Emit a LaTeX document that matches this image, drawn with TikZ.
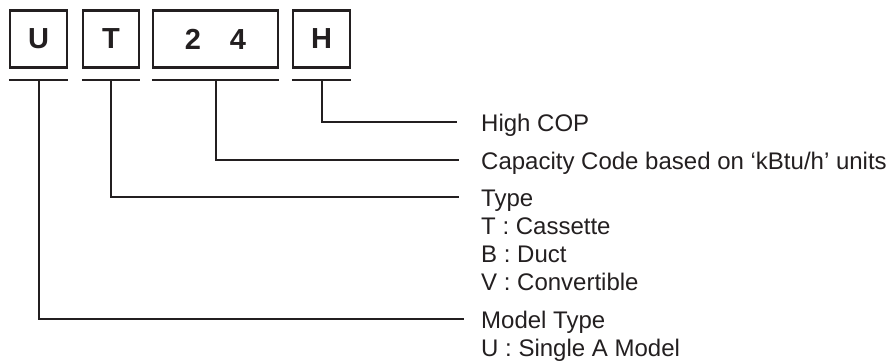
\documentclass[tikz,border=0pt]{standalone}
\usepackage{fontspec}
\setmainfont{Liberation Sans}
\usepackage{tikz}
\usetikzlibrary{positioning}
\definecolor{ink}{HTML}{231F20}

\begin{document}
\begin{tikzpicture}[
          x=1pt, y=-1pt,
          codebox/.style={draw=ink, line width=2.2pt, inner sep=0pt,
            minimum height=57pt, text=ink,
            font=\bfseries\fontsize{29}{29}\selectfont},
          lbl/.style={anchor=base west, inner sep=0pt, text=ink,
            font=\fontsize{24}{28}\selectfont},
          lead/.style={draw=ink, line width=2pt}
      ]
        \useasboundingbox (0,0) rectangle (891,361);
        % code letters
        \node[codebox, minimum width=57pt]  (bU)  at (38.5,39)  {U};
        \node[codebox, minimum width=56pt]  (bT)  at (111,39)   {T};
        \node[codebox, minimum width=125pt] (b24) at (215.5,39) {2\quad4};
        \node[codebox, minimum width=57pt]  (bH)  at (321.5,39) {H};
        % bars under the boxes
        \foreach \b in {U,T,24,H}
          \draw[lead] ([yshift=-11pt]b\b.south west) -- ([yshift=-11pt]b\b.south east)
            coordinate[midway] (u\b);
        % explanations
        \node[lbl] (lH)     at (481,131) {High COP};
        \node[lbl] (lCap)   at (481,169) {Capacity Code based on ‘kBtu/h’ units};
        \node[lbl] (lType)  at (481,206) {Type};
        \node[lbl] (lT)     at ([yshift=-28.3pt]lType.base west) {T : Cassette};
        \node[lbl] (lB)     at ([yshift=-28.3pt]lT.base west)    {B : Duct};
        \node[lbl] (lV)     at ([yshift=-28.3pt]lB.base west)    {V : Convertible};
        \node[lbl] (lModel) at (481,328) {Model Type};
        \node[lbl] (lU)     at ([yshift=-28.3pt]lModel.base west) {U : Single A Model};
        % leaders
        \draw[lead] (uH)  |- ([xshift=-24pt,yshift=9pt]lH.base west);
        \draw[lead] (u24) |- ([xshift=-22pt,yshift=9pt]lCap.base west);
        \draw[lead] (uT)  |- ([xshift=-22pt,yshift=9pt]lType.base west);
        \draw[lead] (uU)  |- ([xshift=-17pt,yshift=9pt]lModel.base west);
      \end{tikzpicture}
\end{document}
